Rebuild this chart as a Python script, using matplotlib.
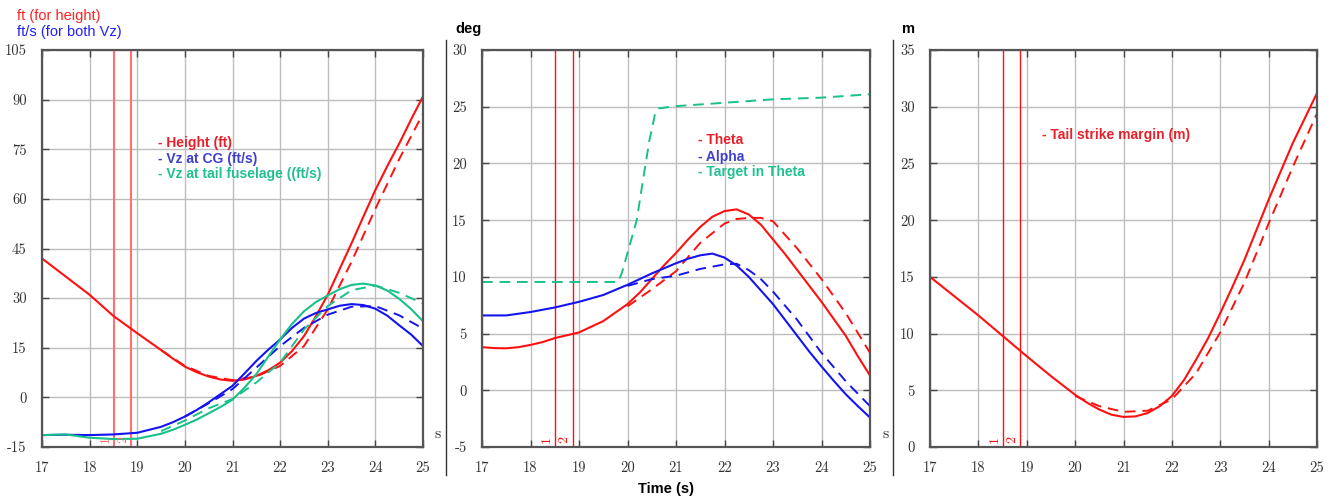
import matplotlib
matplotlib.use("Agg")
import matplotlib.pyplot as plt
from matplotlib.lines import Line2D
from matplotlib.ticker import FuncFormatter, MultipleLocator

plt.rcParams["font.family"] = ["Liberation Sans", "DejaVu Sans"]
plt.rcParams["axes.unicode_minus"] = False

W, H = 1333, 499

# ---- data ----
# panel 1 (ft, ft/s)
height_t = [17, 17.5, 18, 18.5, 19, 19.5, 19.75, 20, 20.25, 20.5, 20.75, 21, 21.25, 21.5, 21.75,
            22, 22.25, 22.5, 22.75, 23, 23.25, 23.5, 23.75, 24, 24.25, 24.5, 24.75, 25]
height = [42, 36.5, 31, 24.6, 19.4, 14.3, 11.7, 9.3, 7.6, 6.3, 5.4, 5.0, 5.4, 6.5, 8.2,
          10.5, 14, 18.5, 24.5, 31, 38.8, 46.6, 54.7, 62.7, 69.9, 76.7, 84, 91]
height_d_t = [19.5, 20, 20.5, 21, 21.5, 22, 22.5, 23, 23.5, 24, 24.5, 25]
height_d = [14.3, 9.5, 6.5, 5.2, 6.3, 9.5, 15.5, 26.6, 41, 57, 72, 85.8]

vz_cg_t = [17, 17.5, 18, 18.5, 19, 19.5, 19.75, 20, 20.25, 20.5, 21, 21.25, 21.5, 21.75, 22,
           22.25, 22.5, 22.75, 23, 23.25, 23.5, 23.75, 24, 24.25, 24.5, 24.75, 25]
vz_cg = [-11.4, -11.3, -11.4, -11.2, -10.7, -8.9, -7.5, -5.8, -3.8, -1.5, 3.5, 7.2, 11.0, 14.4, 17.5,
         21.0, 23.8, 25.5, 26.6, 27.7, 28.2, 27.9, 26.8, 24.7, 21.8, 19.0, 15.5]
vz_cg_d_t = [20, 20.5, 21, 21.5, 22, 22.5, 23, 23.5, 24, 24.5, 25]
vz_cg_d = [-5.8, -1.8, 2.5, 9, 15.5, 21, 25, 27.4, 27.6, 24.8, 20.8]

vz_tail_t = [17, 17.5, 18, 18.5, 19, 19.5, 19.75, 20, 20.25, 20.5, 20.75, 21, 21.25, 21.5, 21.75,
             22, 22.25, 22.5, 22.75, 23, 23.25, 23.5, 23.75, 24, 24.25, 24.5, 24.75, 25]
vz_tail = [-11.4, -11.2, -12.2, -12.6, -12.5, -11.0, -9.8, -8.3, -6.7, -4.8, -2.9, -0.7, 2.9, 7.0, 12.3,
           17.5, 22.2, 26.0, 28.8, 30.8, 32.7, 34.0, 34.4, 33.8, 32.3, 29.8, 26.7, 23]
vz_tail_d_t = [19.5, 20, 20.5, 21, 21.5, 22, 22.5, 23, 23.5, 24, 24.5, 25]
vz_tail_d = [-10.2, -7, -3.3, -0.5, 4.5, 10.5, 20.5, 27.6, 32.4, 33.8, 31.6, 28.4]

# panel 2 (deg)
theta_t = [17, 17.25, 17.5, 17.75, 18, 18.25, 18.5, 19, 19.5, 20, 20.25, 20.5, 20.75, 21, 21.25,
           21.5, 21.75, 22, 22.25, 22.5, 22.75, 23, 23.25, 23.5, 23.75, 24, 24.25, 24.5, 24.75, 25]
theta = [3.8, 3.72, 3.7, 3.8, 4.0, 4.25, 4.6, 5.1, 6.1, 7.6, 8.6, 9.8, 11.0, 12.1, 13.3,
         14.4, 15.3, 15.8, 15.95, 15.5, 14.6, 13.3, 12.0, 10.6, 9.2, 7.8, 6.3, 4.8, 3.0, 1.3]
theta_d_t = [20, 20.5, 21, 21.5, 22, 22.25, 22.5, 22.75, 23, 23.5, 24, 24.5, 25]
theta_d = [7.4, 8.9, 10.5, 13.0, 14.7, 15.1, 15.2, 15.2, 14.9, 12.5, 9.8, 6.8, 3.3]

alpha_t = [17, 17.5, 18, 18.5, 19, 19.5, 20, 20.25, 20.5, 20.75, 21, 21.25, 21.5, 21.75, 22,
           22.25, 22.5, 22.75, 23, 23.25, 23.5, 23.75, 24, 24.25, 24.5, 24.75, 25]
alpha = [6.6, 6.6, 6.9, 7.3, 7.8, 8.4, 9.3, 9.8, 10.3, 10.75, 11.2, 11.6, 11.9, 12.05, 11.7,
         11.0, 10.0, 8.8, 7.6, 6.2, 4.8, 3.4, 2.1, 0.85, -0.35, -1.4, -2.4]
alpha_d_t = [20, 20.5, 21, 21.5, 22, 22.25, 22.5, 22.75, 23, 23.5, 24, 24.5, 25]
alpha_d = [9.2, 9.8, 10.1, 10.7, 11.1, 11.15, 10.6, 9.8, 8.7, 6.2, 3.3, 0.8, -1.4]

target_t = [17, 19.81, 19.88, 20.0, 20.19, 20.33, 20.45, 20.57, 20.64, 21, 22, 23, 24, 25]
target = [9.55, 9.55, 10.3, 12.1, 15, 18.8, 22, 24.4, 24.85, 25.05, 25.35, 25.65, 25.8, 26.1]

# panel 3 (m)
margin_t = [17, 17.5, 18, 18.5, 19, 19.5, 20, 20.25, 20.5, 20.75, 21, 21.25, 21.5, 21.75, 22,
            22.25, 22.5, 22.75, 23, 23.25, 23.5, 24, 24.5, 25]
margin = [15.0, 13.3, 11.6, 9.8, 8.0, 6.25, 4.6, 3.9, 3.3, 2.85, 2.65, 2.7, 3.0, 3.6, 4.5,
          5.9, 7.7, 9.6, 11.8, 14.1, 16.5, 21.8, 26.8, 31.2]
margin_d_t = [20, 20.5, 21, 21.5, 22, 22.5, 23, 23.5, 24, 24.5, 25]
margin_d = [4.5, 3.6, 3.1, 3.2, 4.2, 6.5, 10.1, 14.5, 19.7, 24.7, 29.4]

events = [18.51, 18.87]
event_labels = ["1", "2"]

RED = "#ff1010"
BLUE = "#1414f0"
GREEN = "#18c08c"
DASH = (0, (5.5, 3.5))

fig = plt.figure(figsize=(W / 100, H / 100), dpi=100)


def px_axes(x0, x1, y0, y1):
    return fig.add_axes([x0 / W, 1 - y1 / H, (x1 - x0) / W, (y1 - y0) / H])


def tick_fmt(v, pos):
    return f"{v:g}"


def style(ax, ylim, ystep):
    ax.set_xlim(17, 25)
    ax.set_ylim(*ylim)
    ax.xaxis.set_major_locator(MultipleLocator(1))
    ax.yaxis.set_major_locator(MultipleLocator(ystep))
    ax.xaxis.set_major_formatter(FuncFormatter(tick_fmt))
    ax.yaxis.set_major_formatter(FuncFormatter(tick_fmt))
    ax.grid(True, color="#bdbdbd", lw=1)
    ax.set_axisbelow(True)
    ax.tick_params(direction="in", top=True, right=True, length=5, width=1,
                   color="#444444", labelsize=10.5, labelcolor="#333333")
    ax.tick_params(axis="x", pad=10)
    ax.tick_params(axis="y", pad=11)
    for lab in ax.get_xticklabels() + ax.get_yticklabels():
        lab.set_fontfamily("cmr10")
    for sp in ax.spines.values():
        sp.set_color("#555555")
        sp.set_linewidth(1.6)


def event_lines(ax, color, lw):
    for x, lab in zip(events, event_labels):
        ax.axvline(x, color=color, lw=lw, zorder=1.5)
        ax.text(x - 0.17, 0.01, lab, transform=ax.get_xaxis_transform(), rotation=90,
                color=color, fontsize=10, fontfamily="cmr10", ha="center", va="bottom")


# panel 1
ax1 = px_axes(42, 423, 50, 447)
style(ax1, (-15, 105), 15)
event_lines(ax1, "#ff7070", 1.5)
ax1.plot(height_d_t, height_d, color=RED, lw=1.4, ls=DASH)
ax1.plot(height_t, height, color=RED, lw=1.5)
ax1.plot(vz_cg_d_t, vz_cg_d, color=BLUE, lw=1.4, ls=DASH)
ax1.plot(vz_cg_t, vz_cg, color=BLUE, lw=1.5)
ax1.plot(vz_tail_d_t, vz_tail_d, color=GREEN, lw=1.4, ls=DASH)
ax1.plot(vz_tail_t, vz_tail, color=GREEN, lw=1.5)
for y, txt, c in [(0.766, "- Height (ft)", "#e8202a"),
                  (0.725, "- Vz at CG (ft/s)", "#4040cc"),
                  (0.688, "- Vz at tail fuselage ((ft/s)", "#20c090")]:
    ax1.text(0.304, y, txt, transform=ax1.transAxes, color=c, fontsize=10,
             fontweight="bold", va="center")

# panel 2
ax2 = px_axes(482, 870, 50, 447)
style(ax2, (-5, 30), 5)
event_lines(ax2, RED, 1)
ax2.plot(target_t, target, color=GREEN, lw=1.4, ls=DASH)
ax2.plot(theta_d_t, theta_d, color=RED, lw=1.4, ls=DASH)
ax2.plot(theta_t, theta, color=RED, lw=1.5)
ax2.plot(alpha_d_t, alpha_d, color=BLUE, lw=1.4, ls=DASH)
ax2.plot(alpha_t, alpha, color=BLUE, lw=1.5)
for y, txt, c in [(0.773, "- Theta", "#e8202a"),
                  (0.731, "- Alpha", "#4040cc"),
                  (0.693, "- Target in Theta", "#20c090")]:
    ax2.text(0.557, y, txt, transform=ax2.transAxes, color=c, fontsize=10,
             fontweight="bold", va="center")

# panel 3
ax3 = px_axes(930, 1317, 50, 447)
style(ax3, (0, 35), 5)
event_lines(ax3, RED, 1)
ax3.plot(margin_d_t, margin_d, color=RED, lw=1.4, ls=DASH)
ax3.plot(margin_t, margin, color=RED, lw=1.5)
ax3.text(0.289, 0.786, "- Tail strike margin (m)", transform=ax3.transAxes,
         color="#e8202a", fontsize=10, fontweight="bold", va="center")

# separators
for x in (446, 893):
    fig.add_artist(Line2D([x / W, x / W], [1 - 40 / H, 1 - 475 / H],
                          transform=fig.transFigure, color="#333333", lw=1))

# figure texts
fig.text(17 / W, 1 - 16 / H, "ft (for height)", color="#ff2020", fontsize=10.5, va="center")
fig.text(17 / W, 1 - 32 / H, "ft/s (for both Vz)", color="#2020ff", fontsize=10.5, va="center")
fig.text(455 / W, 1 - 33 / H, "deg", fontsize=10.5, fontweight="bold", va="baseline")
fig.text(902 / W, 1 - 33 / H, "m", fontsize=10.5, fontweight="bold", va="baseline")
for x in (438, 886):
    fig.text(x / W, 1 - 434 / H, "s", fontsize=11.5, fontfamily="cmr10", color="#333333",
             ha="center", va="center")
fig.text(666 / W, 1 - 489 / H, "Time (s)", fontsize=10.5, fontweight="bold",
         ha="center", va="center")

fig.savefig("out.png", dpi=100)
